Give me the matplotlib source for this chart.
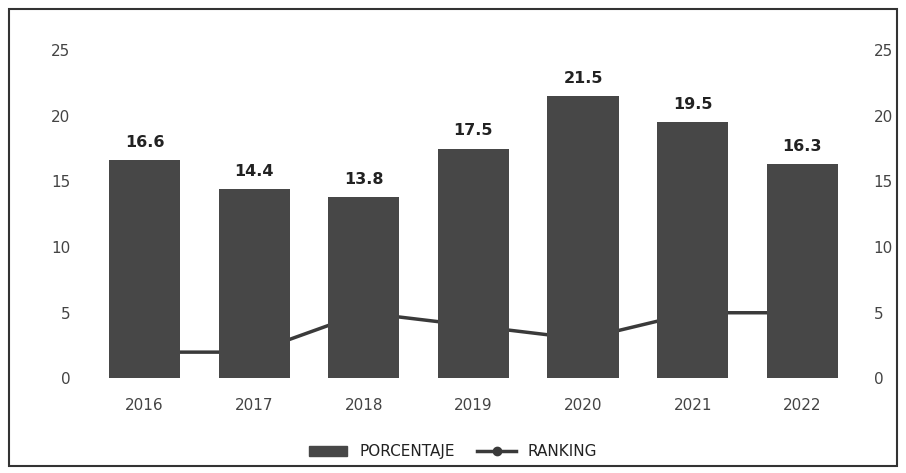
import matplotlib
matplotlib.use('Agg')
import matplotlib.pyplot as plt
from matplotlib.patches import Rectangle
from matplotlib.lines import Line2D

plt.rcParams['font.family'] = ['DejaVu Sans']

# datos
anios = ['2016', '2017', '2018', '2019', '2020', '2021', '2022']
porcentaje = [16.6, 14.4, 13.8, 17.5, 21.5, 19.5, 16.3]
ranking = [2, 2, 5, 4, 3, 5, 5]

color_barra = '#474747'
color_linea = '#3a3a3a'
color_texto = '#444444'

fig = plt.figure(figsize=(9.06, 4.73), dpi=100)
ax = fig.add_axes([0.099, 0.2, 0.847, 0.694])
ax2 = ax.twinx()
# barras delante de la linea
ax.set_zorder(ax2.get_zorder() + 1)
ax.patch.set_visible(False)

x = range(len(anios))
ax.bar(x, porcentaje, width=0.65, color=color_barra, zorder=2)
ax2.plot(x, ranking, color=color_linea, lw=2.5, marker='o', ms=6, zorder=1)

# etiquetas de valor
for xi, v in zip(x, porcentaje):
    ax.text(xi, v + 0.8, f'{v:.1f}', ha='center', va='bottom',
            fontsize=11.5, fontweight='bold', color='#222222')

for a in (ax, ax2):
    a.set_ylim(0, 25)
    a.set_yticks([0, 5, 10, 15, 20, 25])
    for s in a.spines.values():
        s.set_visible(False)
    a.tick_params(length=0, labelsize=11, colors=color_texto)
ax.set_xlim(-0.5, 6.5)
ax.set_xticks(list(x))
ax.set_xticklabels(anios)
ax.tick_params(axis='x', pad=14)
ax.tick_params(axis='y', pad=14)
ax2.tick_params(axis='y', pad=12)

# leyenda
handles = [Rectangle((0, 0), 1, 1, color=color_barra),
           Line2D([0], [0], color=color_linea, lw=2.5, marker='o', ms=6)]
fig.legend(handles, ['PORCENTAJE', 'RANKING'], loc='center',
           bbox_to_anchor=(0.5, 0.045), ncol=2, frameon=False,
           fontsize=11, handlelength=2.5, columnspacing=1.5,
           labelcolor='#222222')

# marco del grafico
fig.patches.append(Rectangle((0.01, 0.015), 0.98, 0.965, transform=fig.transFigure,
                             fill=False, edgecolor='#333333', lw=1.5))

fig.savefig('out.png', dpi=100)
